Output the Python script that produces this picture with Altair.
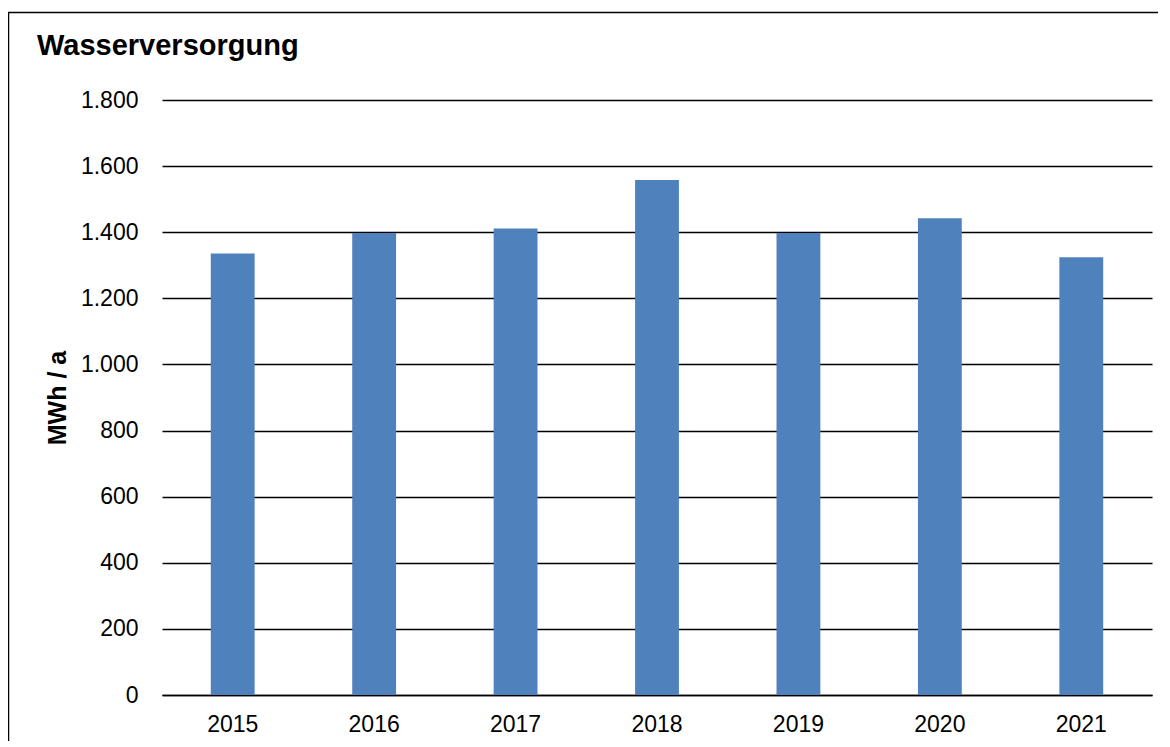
import altair as alt
import pandas as pd

years = ["2015", "2016", "2017", "2018", "2019", "2020", "2021"]
values = [1336, 1398, 1411, 1558, 1398, 1442, 1324]
y_ticks = [0, 200, 400, 600, 800, 1000, 1200, 1400, 1600, 1800]
chart_title = "Wasserversorgung"
y_title = "MWh / a"

df = pd.DataFrame({"Jahr": years, "Wert": values})
one = pd.DataFrame({"t": [chart_title]})

FONT = "Liberation Sans"

bars = alt.Chart(df).mark_bar(color="#4F81BD").encode(
    x=alt.X(
        "Jahr:N",
        sort=years,
        scale=alt.Scale(paddingInner=0.69, paddingOuter=0.345),
        axis=alt.Axis(
            title=None,
            labelAngle=0,
            labelFontSize=23,
            labelFont=FONT,
            labelColor="black",
            labelPadding=18,
            ticks=False,
            domain=True,
            domainColor="black",
            domainWidth=1.5,
            grid=False,
        ),
    ),
    y=alt.Y(
        "Wert:Q",
        scale=alt.Scale(domain=[0, 1800], nice=False),
        axis=alt.Axis(
            values=y_ticks,
            title=y_title,
            titleFont=FONT,
            titleFontSize=25,
            titleFontWeight="bold",
            titleColor="black",
            titleAngle=-90,
            titleAlign="center",
            titleBaseline="middle",
            titleX=-105,
            titleY=297.5,
            labelFontSize=23,
            labelFont=FONT,
            labelColor="black",
            labelPadding=24,
            labelExpr="replace(format(datum.value, ','), ',', '.')",
            ticks=False,
            domain=False,
            grid=True,
            gridColor="black",
            gridWidth=1.5,
        ),
    ),
)

title_text = alt.Chart(one).mark_text(
    align="left", baseline="alphabetic", fontSize=29, fontWeight="bold", font=FONT, color="black"
).encode(x=alt.value(-125), y=alt.value(-45), text="t:N")

frame = alt.Chart(one).mark_rect(filled=False, stroke="black", strokeWidth=1.5).encode(
    x=alt.value(-153.5), x2=alt.value(1100), y=alt.value(-87.5), y2=alt.value(800)
)

chart = alt.layer(frame, bars, title_text).properties(
    width=990,
    height=595,
    autosize=alt.AutoSizeParams(type="none"),
    padding={"left": 154, "top": 92, "right": 6, "bottom": 46},
).configure_view(stroke=None)

chart.save("out.html", embed_options={"renderer": "svg", "actions": False})
